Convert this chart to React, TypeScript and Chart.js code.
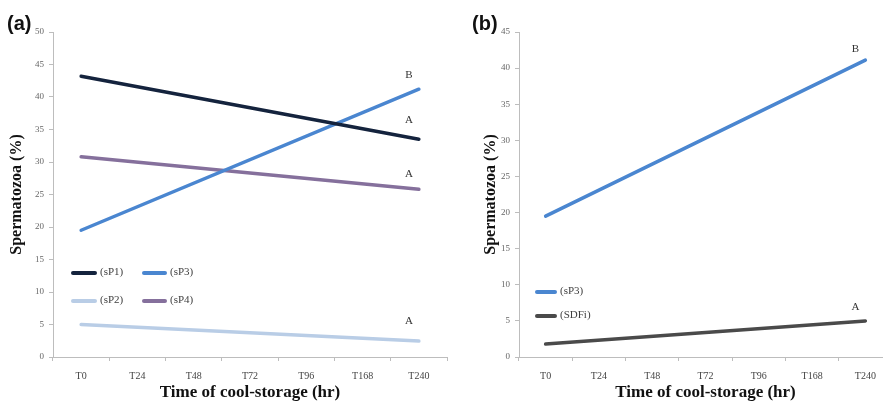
import React, { useEffect, useRef } from "react";
import { Chart, registerables } from "chart.js";

Chart.register(...registerables);

const categories = ["T0", "T24", "T48", "T72", "T96", "T168", "T240"];

const sP1 = [43.2, null, null, null, null, null, 33.5];
const sP2 = [5.0, null, null, null, null, null, 2.45];
const sP3 = [19.5, null, null, null, null, null, 41.2];
const sP4 = [30.8, null, null, null, null, null, 25.8];
const sP3b = [19.5, null, null, null, null, null, 41.1];
const SDFi = [1.8, null, null, null, null, null, 5.0];

const lettersA = ["A", "A", "B", "A"]; // sP1, sP2, sP3, sP4
const lettersB = ["B", "A"]; // sP3, SDFi

const yMaxA = 50;
const yMaxB = 45;

const SERIF = "'Liberation Serif', 'Times New Roman', serif";

function makePlugin(panel: string, letters: string[], legendCfg: any) {
  return {
    id: "custom" + panel,
    afterDraw(chart: any) {
      const ctx = chart.ctx;
      ctx.save();
      ctx.fillStyle = "#111";
      ctx.font = "bold 20px 'Liberation Sans', Arial, sans-serif";
      ctx.textBaseline = "middle";
      ctx.textAlign = "left";
      ctx.fillText(panel, legendCfg.tagX, 24);
      ctx.font = "11px " + SERIF;
      ctx.fillStyle = "#333";
      ctx.textAlign = "center";
      ctx.textBaseline = "alphabetic";
      chart.data.datasets.forEach((ds: any, i: number) => {
        const meta = chart.getDatasetMeta(i);
        const last = meta.data[meta.data.length - 1];
        if (!last) return;
        const off = legendCfg.letterOff[i] ?? 12;
        ctx.fillText(letters[i], last.x - 10, last.y - off);
      });
      ctx.font = "11px " + SERIF;
      ctx.textAlign = "left";
      ctx.textBaseline = "middle";
      legendCfg.items.forEach((it: any) => {
        const ds = chart.data.datasets[it.index];
        ctx.strokeStyle = ds.borderColor;
        ctx.lineWidth = 4;
        ctx.lineCap = "round";
        ctx.beginPath();
        ctx.moveTo(it.x, it.y);
        ctx.lineTo(it.x + it.w, it.y);
        ctx.stroke();
        ctx.fillStyle = "#404040";
        ctx.fillText(ds.label, it.x + it.w + 5, it.y - 1);
      });
      ctx.restore();
    },
  };
}

function buildConfig(datasets: any[], yMax: number, yAxisWidth: number, yTitlePad: number, rightPad: number, plugin: any) {
  return {
    type: "line",
    data: { labels: categories, datasets },
    options: {
      animation: false,
      responsive: false,
      maintainAspectRatio: false,
      spanGaps: true,
      layout: { padding: { top: 32, right: rightPad, left: 0, bottom: 0 } },
      elements: { point: { radius: 0, hoverRadius: 0 }, line: { tension: 0, borderCapStyle: "round" } },
      plugins: { legend: { display: false }, tooltip: { enabled: false } },
      scales: {
        x: {
          type: "category",
          offset: true,
          border: { color: "#bdbdbd", width: 1 },
          grid: { display: true, drawOnChartArea: false, drawTicks: true, tickLength: 4, color: "#bdbdbd", offset: true },
          ticks: { color: "#444", font: { family: SERIF, size: 10 }, padding: 9, maxRotation: 0, autoSkip: false },
          title: {
            display: true,
            text: "Time of cool-storage (hr)",
            color: "#111",
            font: { family: SERIF, size: 17, weight: "bold" },
            padding: { top: 0, bottom: 2 },
          },
          afterFit: (s: any) => { s.height = 48; },
        },
        y: {
          min: 0,
          max: yMax,
          border: { color: "#bdbdbd", width: 1 },
          grid: { display: true, drawOnChartArea: false, drawTicks: true, tickLength: 4, color: "#bdbdbd" },
          ticks: { stepSize: 5, color: "#666", font: { family: SERIF, size: 9 }, padding: 5 },
          title: {
            display: true,
            text: "Spermatozoa (%)",
            color: "#111",
            font: { family: SERIF, size: 16, weight: "bold" },
            padding: { top: yTitlePad, bottom: 0 },
          },
          afterFit: (s: any) => { s.width = yAxisWidth; },
        },
      },
    },
    plugins: [plugin],
  };
}

export default function App() {
  const refA = useRef<HTMLCanvasElement | null>(null);
  const refB = useRef<HTMLCanvasElement | null>(null);

  useEffect(() => {
    document.body.style.margin = "0";
    const dsA = [
      { label: "(sP1)", data: sP1, borderColor: "#14233d", borderWidth: 3.5 },
      { label: "(sP2)", data: sP2, borderColor: "#b9cde6", borderWidth: 3.5 },
      { label: "(sP3)", data: sP3, borderColor: "#4a86d0", borderWidth: 3.5 },
      { label: "(sP4)", data: sP4, borderColor: "#85709c", borderWidth: 3.5 },
    ];
    const dsB = [
      { label: "(sP3)", data: sP3b, borderColor: "#4a86d0", borderWidth: 3.5 },
      { label: "(SDFi)", data: SDFi, borderColor: "#4a4a4a", borderWidth: 3.5 },
    ];
    const pA = makePlugin("(a)", lettersA, {
      tagX: 7,
      letterOff: [16, 17, 11, 12],
      items: [
        { index: 0, x: 73, y: 273, w: 22 },
        { index: 2, x: 144, y: 273, w: 21 },
        { index: 1, x: 73, y: 301, w: 22 },
        { index: 3, x: 144, y: 301, w: 21 },
      ],
    });
    const pB = makePlugin("(b)", lettersB, {
      tagX: 12,
      letterOff: [8, 11],
      items: [
        { index: 0, x: 77, y: 292, w: 18 },
        { index: 1, x: 77, y: 316, w: 18 },
      ],
    });
    const cA = new Chart(refA.current as any, buildConfig(dsA, yMaxA, 53, 7, 13, pA) as any);
    const cB = new Chart(refB.current as any, buildConfig(dsB, yMaxB, 59, 21, 8, pB) as any);
    return () => {
      cA.destroy();
      cB.destroy();
    };
  }, []);

  return (
    <div style={{ position: "fixed", left: 0, top: 0, width: 883, height: 405, overflow: "hidden", background: "#fff" }}>
      <canvas ref={refA} width={460} height={405} style={{ position: "absolute", left: 0, top: 0, width: 460, height: 405 }} />
      <canvas ref={refB} width={440} height={405} style={{ position: "absolute", left: 460, top: 0, width: 440, height: 405 }} />
    </div>
  );
}
